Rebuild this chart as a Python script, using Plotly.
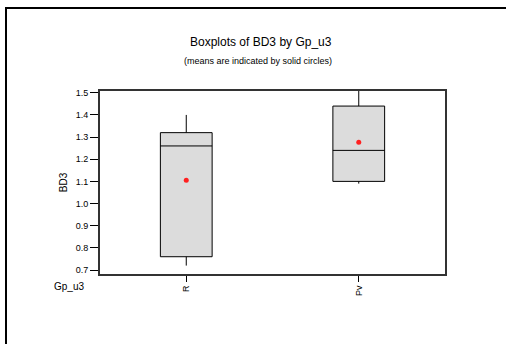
import plotly.graph_objects as go

# ------------------------
# Data
# ------------------------
groups = ["R", "Pv"]
lower_whisker = [0.72, 1.09]
q1_vals = [0.76, 1.10]
medians = [1.26, 1.24]
q3_vals = [1.32, 1.44]
upper_whisker = [1.40, 1.51]
means = [1.105, 1.277]

y_ticks = [0.7, 0.8, 0.9, 1.0, 1.1, 1.2, 1.3, 1.4, 1.5]

FONT = "Liberation Sans, Arial, sans-serif"

fig = go.Figure()

for i, g in enumerate(groups):
    fig.add_trace(go.Box(
        x=[g],
        q1=[q1_vals[i]],
        median=[medians[i]],
        q3=[q3_vals[i]],
        lowerfence=[lower_whisker[i]],
        upperfence=[upper_whisker[i]],
        fillcolor="#dcdcdc",
        line=dict(color="black", width=1),
        whiskerwidth=0,
        width=0.3,
        boxpoints=False,
        showlegend=False,
        hoverinfo="skip",
    ))

# means as solid red circles
fig.add_trace(go.Scatter(
    x=groups, y=means, mode="markers",
    marker=dict(color="#ff2020", size=5),
    showlegend=False, hoverinfo="skip",
))

# ------------------------
# Layout
# ------------------------
ml, mr, mt, mb = 100, 61, 91, 70
pw, ph = 506 - ml - mr, 344 - mt - mb

fig.update_layout(
    width=506, height=344,
    margin=dict(l=ml, r=mr, t=mt, b=mb),
    paper_bgcolor="white", plot_bgcolor="white",
    font=dict(family=FONT, color="black", size=9),
    xaxis=dict(
        type="category", categoryorder="array", categoryarray=groups,
        range=[-0.5, 1.5],
        showline=True, mirror=True, linecolor="#333", linewidth=2,
        ticks="outside", ticklen=6, tickcolor="black",
        tickangle=-90, tickfont=dict(size=9),
        showgrid=False, zeroline=False,
    ),
    yaxis=dict(
        range=[0.682, 1.508],
        tickvals=y_ticks, tickformat=".1f",
        showline=True, mirror=True, linecolor="#333", linewidth=2,
        ticks="outside", ticklen=8, tickcolor="black",
        tickfont=dict(size=9),
        showgrid=False, zeroline=False,
        title=dict(text="BD3", font=dict(size=10), standoff=6),
    ),
    annotations=[
        dict(text="Boxplots of BD3 by Gp_u3", xref="paper", yref="paper",
             x=(261 - ml) / pw, y=1 + (mt - 42) / ph, showarrow=False,
             font=dict(size=12), xanchor="center", yanchor="middle"),
        dict(text="(means are indicated by solid circles)", xref="paper", yref="paper",
             x=(258 - ml) / pw, y=1 + (mt - 61) / ph, showarrow=False,
             font=dict(size=9), xanchor="center", yanchor="middle"),
        dict(text="Gp_u3", xref="paper", yref="paper",
             x=(86 - ml) / pw, y=-(286 - 274) / ph, showarrow=False,
             font=dict(size=10), xanchor="right", yanchor="middle"),
    ],
    shapes=[
        dict(type="rect", xref="paper", yref="paper",
             x0=(6 - ml) / pw, x1=(530 - ml) / pw,
             y0=-(380 - 274) / ph, y1=1 + (mt - 8) / ph,
             line=dict(color="black", width=2), fillcolor="rgba(0,0,0,0)",
             layer="below"),
    ],
)

fig.write_html("out.html", config={"displayModeBar": False},
               post_script="document.body.style.margin='0';")
